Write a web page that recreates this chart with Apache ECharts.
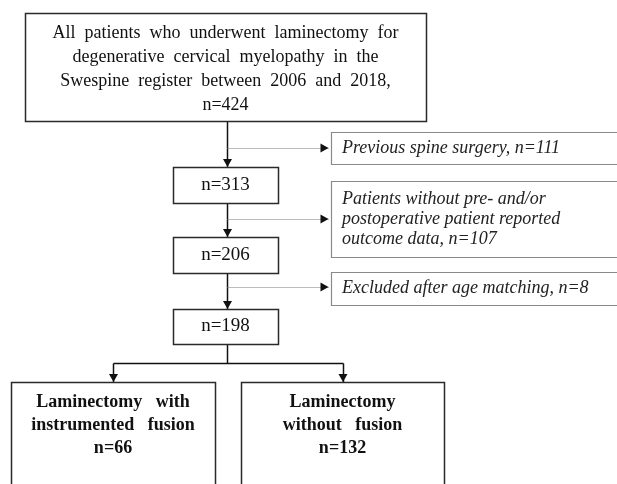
<!DOCTYPE html>
<html>
<head>
<meta charset="utf-8">
<script src="https://cdn.jsdelivr.net/npm/echarts@6/dist/echarts.min.js"></script>
<style>
  html, body { margin: 0; padding: 0; background: #fff; }
  #chart { width: 617px; height: 484px; }
</style>
</head>
<body>
<div id="chart"></div>
<script>
// ---- Data (flowchart content) ----
const mainLines = [
  'All patients who underwent laminectomy for',
  'degenerative cervical myelopathy in the',
  'Swespine register between 2006 and 2018,',
  'n=424'
];
const stepCounts = [313, 206, 198];
const exclusionTexts = [
  'Previous spine surgery, n=111',
  'Patients without pre- and/or\npostoperative patient reported\noutcome data, n=107',
  'Excluded after age matching, n=8'
];
const groupNames = ['Laminectomy with\ninstrumented fusion', 'Laminectomy\nwithout fusion'];
const groupCounts = [66, 132];

// ---- Layout (pixel space of the hidden axes) ----
const L = {
  main: [25, 13, 426, 121],
  steps: [[173, 167, 278, 203], [173, 237, 278, 273], [173, 309, 278, 344]],
  excl: [[331, 132, 640, 164], [331, 181, 640, 257], [331, 272, 640, 305]],
  groups: [[11, 382, 215, 520], [241, 382, 444, 520]],
  spineX: 227,
  splitY: 363,
  dotY: [148, 219, 287],
  dotEnd: 328
};

const SERIF = '"Liberation Serif", "Times New Roman", serif';

// widen word gaps to mimic the justified text of the original
function spread(t, n) { return t.split(' ').join(' '.repeat(n)); }

// Build node list
const nodes = [];
nodes.push({ box: L.main, text: mainLines.join('\n'), kind: 'main' });
stepCounts.forEach((c, i) => nodes.push({ box: L.steps[i], text: 'n=' + c, kind: 'step' }));
exclusionTexts.forEach((t, i) => nodes.push({ box: L.excl[i], text: t, kind: 'excl' }));
groupNames.forEach((g, i) => nodes.push({ box: L.groups[i], text: g + '\nn=' + groupCounts[i], kind: 'group' }));

// Build connectors
const links = [];
const boxesChain = [L.main].concat(L.steps);
for (let i = 0; i < boxesChain.length - 1; i++) {
  links.push({ pts: [[L.spineX, boxesChain[i][3]], [L.spineX, boxesChain[i + 1][1]]], dotted: false, arrow: true });
}
L.dotY.forEach(y => links.push({ pts: [[L.spineX, y], [L.dotEnd, y]], dotted: true, arrow: true }));
const g0x = (L.groups[0][0] + L.groups[0][2]) / 2;
const g1x = (L.groups[1][0] + L.groups[1][2]) / 2;
links.push({ pts: [[L.spineX, L.steps[2][3]], [L.spineX, L.splitY]], dotted: false, arrow: false });
links.push({ pts: [[g0x, L.splitY], [g1x, L.splitY]], dotted: false, arrow: false });
links.push({ pts: [[g0x, L.splitY], [g0x, L.groups[0][1]]], dotted: false, arrow: true });
links.push({ pts: [[g1x, L.splitY], [g1x, L.groups[1][1]]], dotted: false, arrow: true });

function renderNode(params, api) {
  const n = nodes[api.value(0)];
  const p1 = api.coord([n.box[0], n.box[1]]);
  const p2 = api.coord([n.box[2], n.box[3]]);
  const w = p2[0] - p1[0], h = p2[1] - p1[1];
  const isExcl = n.kind === 'excl';
  const children = [{
    type: 'rect',
    shape: { x: p1[0] + 0.5, y: p1[1] + 0.5, width: w, height: h },
    style: { fill: '#fff', stroke: isExcl ? '#8a8a8a' : '#2a2a2a', lineWidth: isExcl ? 1.2 : 1.5 }
  }];
  let textStyle;
  if (n.kind === 'main') {
    textStyle = { text: spread(n.text, 2), x: p1[0] + w / 2, y: p1[1] + h / 2 + 2, align: 'center', verticalAlign: 'middle',
      font: '18px ' + SERIF, lineHeight: 24, fill: '#111' };
  } else if (n.kind === 'step') {
    textStyle = { text: n.text, x: p1[0] + w / 2, y: p1[1] + h / 2, align: 'center', verticalAlign: 'middle',
      font: '19px ' + SERIF, fill: '#111' };
  } else if (n.kind === 'excl') {
    textStyle = { text: n.text, x: p1[0] + 11, y: p1[1] + h / 2, align: 'left', verticalAlign: 'middle',
      font: 'italic 18px ' + SERIF, lineHeight: 20, fill: '#222' };
  } else {
    textStyle = { text: spread(n.text, 3), x: p1[0] + w / 2, y: p1[1] + 9, align: 'center', verticalAlign: 'top',
      font: 'bold 18px ' + SERIF, lineHeight: 23, fill: '#111' };
  }
  children.push({ type: 'text', style: textStyle });
  return { type: 'group', children };
}

function renderLink(params, api) {
  const lk = links[api.value(0)];
  const pts = lk.pts.map(p => api.coord(p));
  const children = [{
    type: 'polyline',
    shape: { points: pts.map(p => [Math.round(p[0]) + 0.5, Math.round(p[1]) + 0.5]) },
    style: { stroke: lk.dotted ? '#7a7a7a' : '#111', lineWidth: lk.dotted ? 1 : 1.5, lineDash: lk.dotted ? [1, 1] : null, fill: null }
  }];
  if (lk.arrow) {
    const a = pts[pts.length - 2], b = pts[pts.length - 1];
    const dx = b[0] - a[0], dy = b[1] - a[1];
    const len = Math.sqrt(dx * dx + dy * dy);
    const ux = dx / len, uy = dy / len;
    const s = 8, hw = 4.5;
    const bx = b[0] - ux * s, by = b[1] - uy * s;
    children.push({
      type: 'polygon',
      shape: { points: [[b[0] + 0.5, b[1]], [bx - uy * hw + 0.5, by + ux * hw], [bx + uy * hw + 0.5, by - ux * hw]] },
      style: { fill: '#111' }
    });
  }
  return { type: 'group', children };
}

const chart = echarts.init(document.getElementById('chart'), null, { renderer: 'canvas' });
chart.setOption({
  backgroundColor: '#fff',
  animation: false,
  grid: { left: 0, right: 0, top: 0, bottom: 0 },
  xAxis: { type: 'value', min: 0, max: 617, show: false },
  yAxis: { type: 'value', min: 0, max: 484, inverse: true, show: false },
  series: [
    { type: 'custom', clip: false, renderItem: renderLink, data: links.map((l, i) => [i]), silent: true, z: 1 },
    { type: 'custom', clip: false, renderItem: renderNode, data: nodes.map((n, i) => [i]), silent: true, z: 2 }
  ]
});
</script>
</body>
</html>
